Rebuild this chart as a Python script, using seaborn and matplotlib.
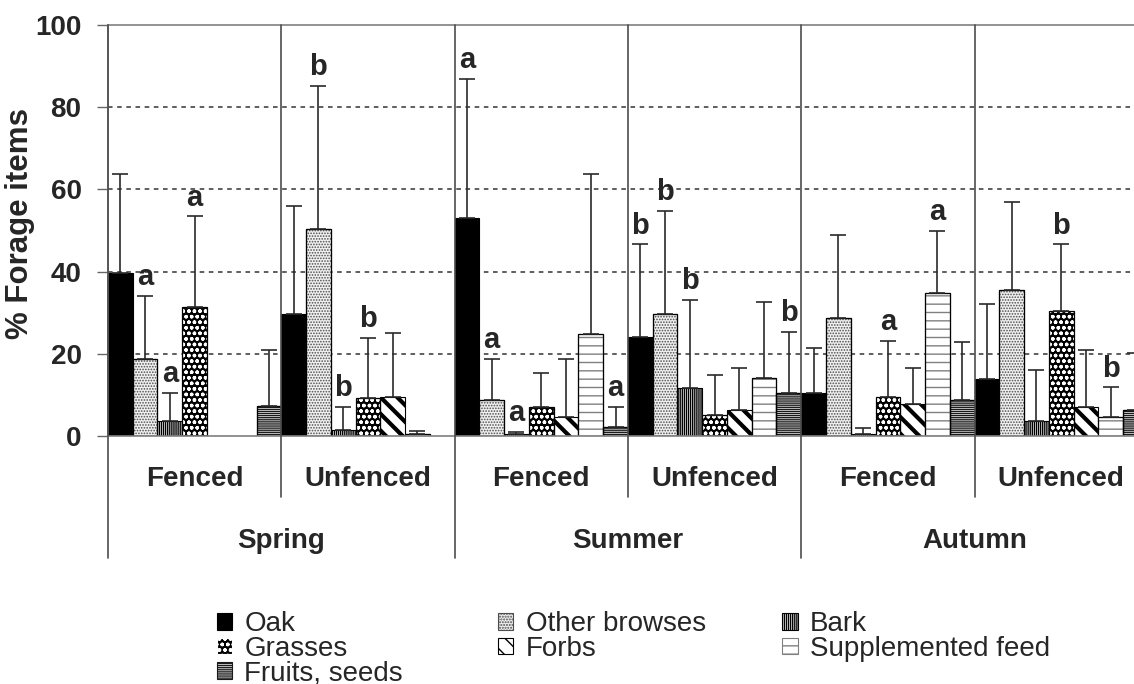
import numpy as np
import pandas as pd
import seaborn as sns
import matplotlib.pyplot as plt
from matplotlib.patches import Rectangle

# groups (season x treatment) and forage items
seasons = ['Spring', 'Summer', 'Autumn']
treatments = ['Fenced', 'Unfenced']
groups = ['Spring Fenced', 'Spring Unfenced', 'Summer Fenced', 'Summer Unfenced',
          'Autumn Fenced', 'Autumn Unfenced']
items = ['Oak', 'Other browses', 'Bark', 'Grasses', 'Forbs', 'Supplemented feed', 'Fruits, seeds']

# mean % per item, one value per group
oak = [39.7, 29.7, 53.0, 24.2, 10.5, 13.8]
other_browses = [18.7, 50.3, 8.8, 29.7, 28.6, 35.5]
bark = [3.6, 1.5, 0.5, 11.6, 0.5, 3.6]
grasses = [31.3, 9.2, 7.0, 5.1, 9.6, 30.5]
forbs = [0.0, 9.6, 4.7, 6.2, 7.7, 7.0]
supplemented = [0.0, 0.6, 24.7, 14.0, 34.9, 4.7]
fruits = [7.3, 0.0, 2.1, 10.5, 8.8, 6.2]

# standard deviations (upper error bars)
oak_sd = [24.0, 26.3, 33.8, 22.4, 10.8, 18.3]
other_browses_sd = [15.4, 34.9, 9.9, 25.1, 20.3, 21.5]
bark_sd = [6.8, 5.6, 0.5, 21.5, 1.5, 12.5]
grasses_sd = [22.1, 14.6, 8.4, 9.7, 13.5, 16.1]
forbs_sd = [0.0, 15.5, 14.0, 10.3, 8.8, 13.8]
supplemented_sd = [0.0, 0.6, 39.0, 18.7, 15.0, 7.1]
fruits_sd = [13.5, 0.0, 5.0, 14.9, 14.0, 13.9]

# significance letters
oak_lab = ['', '', 'a', 'b', '', '']
other_browses_lab = ['a', 'b', 'a', 'b', '', '']
bark_lab = ['a', 'b', 'a', 'b', '', '']
grasses_lab = ['a', 'b', '', '', 'a', 'b']
forbs_lab = ['', '', '', '', '', '']
supplemented_lab = ['', '', '', '', 'a', 'b']
fruits_lab = ['', '', 'a', 'b', '', '']

means = [oak, other_browses, bark, grasses, forbs, supplemented, fruits]
sds = [oak_sd, other_browses_sd, bark_sd, grasses_sd, forbs_sd, supplemented_sd, fruits_sd]
labs = [oak_lab, other_browses_lab, bark_lab, grasses_lab, forbs_lab, supplemented_lab, fruits_lab]

rows = []
for it, m in zip(items, means):
    for g, v in zip(groups, m):
        rows.append({'group': g, 'item': it, 'value': v})
df = pd.DataFrame(rows)

sns.set_style('white')
plt.rcParams['font.family'] = ['Liberation Sans', 'DejaVu Sans']
plt.rcParams['hatch.linewidth'] = 1.0

fig = plt.figure(figsize=(11.34, 6.84), dpi=100)
ax = fig.add_axes([0.0952, 0.3626, 0.9048, 0.6009])

sns.barplot(data=df, x='group', y='value', hue='item', order=groups, hue_order=items,
            palette=['white'] * 7, width=1, gap=0, errorbar=None, dodge=True,
            edgecolor='black', linewidth=0.8, legend=False, ax=ax)

# fill styles per item
styles = [
    dict(fc='black', ec='black', hatch=None, hlw=1.0),
    dict(fc='0.94', ec='0.3', hatch='......', hlw=0.8),
    dict(fc='white', ec='black', hatch='||||||||', hlw=1.0),
    dict(fc='black', ec='white', hatch='ooo', hlw=1.0),
    dict(fc='white', ec='black', hatch='\\\\', hlw=3.0),
    dict(fc='white', ec='0.5', hatch='--', hlw=1.0),
    dict(fc='white', ec='0.1', hatch='--------', hlw=1.0),
]
for cont, st in zip(ax.containers, styles):
    for p in cont:
        p.set_facecolor(st['fc'])
        p.set_edgecolor(st['ec'])
        if st['hatch']:
            p.set_hatch(st['hatch'])
            if hasattr(p, 'set_hatch_linewidth'):
                p.set_hatch_linewidth(st['hlw'])
        if st['ec'] != 'black' and p.get_height() > 0:
            ax.add_patch(Rectangle(p.get_xy(), p.get_width(), p.get_height(),
                                   fill=False, edgecolor='black', lw=0.9, zorder=p.get_zorder() + 0.1))

# error bars and letters
for cont, sd, lab in zip(ax.containers, sds, labs):
    for p, s, l in zip(cont, sd, lab):
        xc = p.get_x() + p.get_width() / 2
        top = p.get_height()
        if s > 0:
            ax.errorbar(xc, top, yerr=[[0], [s]], fmt='none', ecolor='#2a2a2a',
                        elinewidth=1.2, capsize=6, capthick=1.2, zorder=5)
        if l:
            ax.text(xc, top + s + 1.2, l, ha='center', va='bottom', fontsize=21,
                    fontweight='bold', zorder=6)

ax.set_ylim(0, 100)
ax.set_xlim(-0.5, 5.42)
ax.set_yticks([0, 20, 40, 60, 80, 100])
ax.set_yticklabels(['0', '20', '40', '60', '80', '100'], fontsize=20, fontweight='bold')
ax.set_ylabel('% Forage items', fontsize=22.5, fontweight='bold')
ax.yaxis.set_label_coords(-0.071, 0.518)
ax.set_xlabel('')
ax.set_xticks([])
ax.tick_params(axis='y', direction='out', length=8, width=1, color='0.4', left=True, pad=11)

for y in [20, 40, 60, 80]:
    ax.axhline(y, color='0.2', ls=(0, (3, 3)), lw=1.1, zorder=0)

for side in ['left', 'top', 'bottom']:
    ax.spines[side].set_color('0.5')
    ax.spines[side].set_linewidth(1.2)
ax.spines['right'].set_visible(False)
ax.spines['left'].set_bounds(0, 100)

# separators between groups, extending into the label area
trans = ax.get_xaxis_transform()
for k in range(len(groups) + 1):
    x = k - 0.5
    low = -0.297 if k % 2 == 0 else -0.148
    ax.plot([x, x], [low, 1], transform=trans, color='0.3', lw=1.2, clip_on=False, zorder=4)

for i, g in enumerate(groups):
    ax.text(i, -0.105, treatments[i % 2], transform=trans, ha='center', va='center',
            fontsize=20, fontweight='bold')
for j, s in enumerate(seasons):
    ax.text(2 * j + 0.5, -0.255, s, transform=trans, ha='center', va='center',
            fontsize=20, fontweight='bold')

# legend: three columns, each its own legend
handles = [ax.containers[i][1] for i in range(7)]
columns = [[0, 3, 6], [1, 4], [2, 5]]
col_x = [0.191, 0.439, 0.690]
for idx, cx in zip(columns, col_x):
    leg = fig.legend([handles[i] for i in idx], [items[i] for i in idx],
                     loc='upper left', bbox_to_anchor=(cx, 0.106), frameon=False,
                     fontsize=20, handlelength=0.55, handleheight=0.55, handletextpad=0.45,
                     labelspacing=-0.06, borderpad=0, borderaxespad=0)

fig.savefig('out.png', dpi=100)
